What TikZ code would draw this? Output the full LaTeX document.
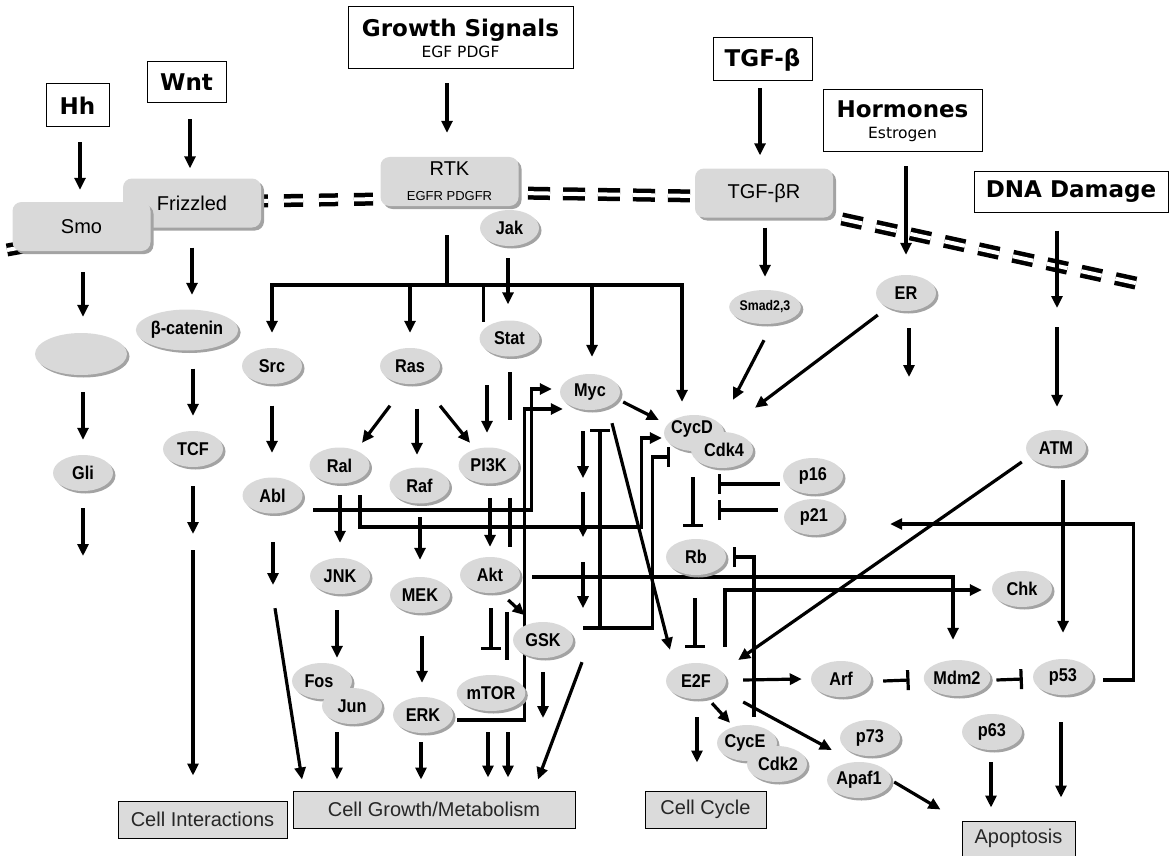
\documentclass[tikz,border=0pt]{standalone}
\usepackage{fontspec}
\setmainfont{Liberation Sans}
\newfontfamily\hdrfont{DejaVu Sans}
\newfontfamily\protfont{Liberation Sans}[FakeStretch=0.88]
\usetikzlibrary{arrows.meta,calc,shapes.geometric,shadows}
\definecolor{protgray}{HTML}{D9D9D9}
\definecolor{shadegray}{HTML}{A3A3A3}
\definecolor{outgray}{HTML}{DBDBDB}
\newcommand{\subtxt}{\hdrfont\mdseries\fontsize{15.5}{15.5}\selectfont}
\pgfdeclarelayer{membrane}
\pgfdeclarelayer{wires}
\pgfsetlayers{membrane,wires,main}
\tikzset{
  prot/.style={ellipse, fill=protgray, minimum width=60pt, minimum height=36pt,
    inner sep=0pt, font=\protfont\bfseries\fontsize{18.5}{18.5}\selectfont,
    drop shadow={shadow xshift=2.5pt, shadow yshift=-2.5pt, fill=shadegray, opacity=1}},
  plabel/.style={inner sep=0pt, font=\protfont\bfseries\fontsize{18.5}{18.5}\selectfont},
  rec/.style={rectangle, rounded corners=9pt, fill=protgray, minimum width=138pt,
    minimum height=49pt, inner sep=0pt, align=center, font=\fontsize{20}{22}\selectfont,
    drop shadow={shadow xshift=3pt, shadow yshift=-3pt, fill=shadegray, opacity=1}},
  hdr/.style={draw, line width=1pt, fill=white, inner sep=0pt, align=center,
    font=\hdrfont\bfseries\fontsize{23}{26}\selectfont},
  outc/.style={draw, line width=1pt, fill=outgray, inner sep=0pt, minimum height=37pt,
    text=black!85, font=\fontsize{20}{22}\selectfont},
  arr/.style={-{Triangle[length=12pt,width=11pt]}, line width=3.2pt},
  inh/.style={-{Bar[width=20pt]}, line width=3.2pt},
  wire/.style={line width=3.2pt},
  memb/.style={line width=4.5pt, double=white, double distance=4pt},
}

\begin{document}
\begin{tikzpicture}[x=1pt,y=-1pt]
  \useasboundingbox (0,0) rectangle (1170,856);

  % signals
  \node[hdr, minimum width=63pt, minimum height=43pt] (hh) at (77.5,105.5) {Hh};
  \node[hdr, minimum width=79pt, minimum height=41pt] (wnt) at (186.5,82.5) {Wnt};
  \node[hdr, minimum width=225pt, minimum height=62pt] (growth) at (460.5,38)
    {Growth Signals\\[-5pt]{\subtxt EGF PDGF}};
  \node[hdr, minimum width=99pt, minimum height=43pt] (tgfb) at (762.5,59.5) {TGF-β};
  \node[hdr, minimum width=159pt, minimum height=62pt] (horm) at (902.5,121)
    {Hormones\\[-5pt]{\subtxt Estrogen}};
  \node[hdr, minimum width=194pt, minimum height=41pt] (dna) at (1071,191.5) {DNA Damage};

  % receptors
  \node[rec] (friz) at (192,203) {Frizzled};
  \node[rec] (smo) at (81.5,226.5) {Smo};
  \node[rec] (rtk) at (449.5,181.5) {RTK\\[3pt]{\fontsize{13}{13}\selectfont EGFR PDGFR}};
  \node[rec] (tgfr) at (764,193) {TGF-βR};
  \node[prot, minimum width=59pt] (jak) at (509.5,228) {Jak};

  % Hh / Wnt branches
  \node[prot, minimum width=92pt, minimum height=42pt] (hhx) at (81,354) {};
  \node[prot] (gli) at (83,473) {Gli};
  \node[prot, minimum width=88pt, minimum height=41pt] (bcat) at (187,330) {β-catenin};
  \node[prot] (tcf) at (193,449) {TCF};

  % growth signalling
  \node[prot] (src) at (272,366) {Src};
  \node[prot] (ras) at (410,366) {Ras};
  \node[prot] (stat) at (509.5,338.5) {Stat};
  \node[prot] (ral) at (339.5,465.5) {Ral};
  \node[prot] (raf) at (419.5,485.5) {Raf};
  \node[prot] (pik) at (488.5,465.5) {PI3K};
  \node[prot] (abl) at (272.5,495.5) {Abl};
  \node[prot] (jnk) at (340,576) {JNK};
  \node[prot] (mek) at (420,595) {MEK};
  \node[prot] (akt) at (490,575) {Akt};
  \node[prot] (gsk) at (543,640) {GSK};
  \node[prot] (fos) at (322,681) {\hspace*{-6pt}Fos};
  \node[prot] (jun) at (352,706) {Jun};
  \node[prot] (erk) at (423,715) {ERK};
  \node[prot] (mtor) at (491,693) {mTOR};
  \node[prot] (myc) at (590,392) {Myc};

  % cell cycle / apoptosis
  \node[prot] (cycd) at (694,433) {};
  \node[prot] (cdk4) at (722,450) {\hspace*{4pt}Cdk4};
  \node[plabel] (cycdlbl) at (692,429) {CycD};
  \node[prot, minimum width=68pt, minimum height=34pt,
    font=\protfont\bfseries\fontsize{14}{14}\selectfont] (smad) at (765,307) {Smad2,3};
  \node[prot] (er) at (906,293) {ER};
  \node[prot] (atm) at (1056,448) {ATM};
  \node[prot] (p16) at (813,476) {p16};
  \node[prot] (p21) at (814,517) {p21};
  \node[prot] (rb) at (696,557) {Rb};
  \node[prot] (chk) at (1022,589) {Chk};
  \node[prot] (e2f) at (696,681) {E2F};
  \node[prot] (arf) at (841,679) {Arf};
  \node[prot] (mdm2) at (957,678) {Mdm2};
  \node[prot] (p53) at (1063,677) {p53};
  \node[prot] (p63) at (992,732) {p63};
  \node[prot] (cyce) at (747,743) {\hspace*{-4pt}CycE};
  \node[prot] (cdk2) at (777,764) {\hspace*{2pt}Cdk2};
  \node[prot] (p73) at (870,738) {p73};
  \node[prot] (apaf) at (859,780) {Apaf1};

  % outcomes
  \node[outc, minimum width=169pt] (cellint) at (202.5,819.5) {Cell Interactions};
  \node[outc, minimum width=282pt] (cellgrow) at (434,809.5) {Cell Growth/Metabolism};
  \node[outc, minimum width=121pt] (cellcyc) at (705.5,809.5) {Cell Cycle};
  \node[outc, minimum width=113pt, minimum height=35pt] (apop) at (1018.5,838.5) {Apoptosis};

  \coordinate (dmg) at (1057,317);
  \coordinate (gliout) at (83,556);
  \coordinate (tcfmid) at (193,542);
  \coordinate (ablout) at (273,585);
  \coordinate (gskout) at (543,718);
  \coordinate (erout) at (909,377);
  \coordinate (busL) at (272,285);
  \coordinate (busR) at (682,285);

  % membrane
  \begin{pgfonlayer}{membrane}
    \draw[memb] (7,250) -- (40,244);
    \draw[memb, dash pattern=on 19pt off 16pt, dash phase=12pt] (261,201) -- (380,199);
    \draw[memb, dash pattern=on 22pt off 13pt, dash phase=26pt] (519,193) -- (695,196);
    \draw[memb, dash pattern=on 21pt off 14pt, dash phase=26pt] (833,217) -- (1140,284);
  \end{pgfonlayer}

  \begin{pgfonlayer}{wires}
    % inputs
    \draw[arr] ($(hh.south)+(2.5,15)$) -- ($(smo.north)+(-1.5,-12)$);
    \draw[arr] ($(wnt.south)+(3.5,16)$) -- ($(friz.north)+(-2,-10)$);
    \draw[arr] ($(growth.south)+(-13.5,14)$) -- ($(rtk.north)+(-2.5,-24)$);
    \draw[arr] ($(tgfb.south)+(-2.5,7)$) -- ($(tgfr.north)+(-4,-13)$);
    \draw[arr] ($(horm.south)+(3.5,14)$) -- ($(er.north)+(0,-20)$);
    \draw[arr] ($(dna.south)+(-14,18)$) -- ($(dmg)+(0,-9)$);
    \draw[arr] ($(dmg)+(0,10)$) -- ($(atm.north)+(1,-23)$);
    \draw[arr] ($(tgfr.south)+(1,10)$) -- ($(smad.north)+(0,-13)$);

    % Hh and Wnt
    \draw[arr] ($(smo.south)+(1.5,21)$) -- ($(hhx.north)+(2,-16)$);
    \draw[arr] ($(hhx.south)+(2,17)$) -- ($(gli.north)+(0,-15)$);
    \draw[arr] ($(gli.south)+(0,17)$) -- (gliout);
    \draw[arr] ($(friz.south)+(0,20)$) -- ($(bcat.north)+(5,-14.5)$);
    \draw[arr] ($(bcat.south)+(6,18)$) -- ($(tcf.north)+(0,-15)$);
    \draw[arr] ($(tcf.south)+(0,19)$) -- ($(tcfmid)+(0,-8)$);
    \draw[arr] ($(tcfmid)+(0,8)$) -- ($(cellint.north)+(-9.5,-25)$);

    % RTK bus
    \draw[wire] ($(rtk.south)+(-2.5,29)$) -- ($(rtk.south)+(-2.5,79)$);
    \draw[arr] (busR) -- (busL) -- ($(src.north)+(0,-15)$);
    \draw[arr] (busL) -- (busR) -- ($(cycd.north)+(-12,-13)$);
    \draw[arr] (ras.north |- busL) -- ($(ras.north)+(0,-15)$);
    \draw[wire] ($(stat.north |- busL)+(-26,0)$) -- ($(stat.north)+(-26,2)$);
    \draw[arr] ($(myc.north |- busL)+(2,0)$) -- ($(myc.north)+(2,-17)$);
    \draw[arr] ($(jak.south)+(-1.5,12)$) -- ($(stat.north)+(-1.5,-16)$);
    \draw[arr] ($(stat.south)+(-22.5,28.5)$) -- ($(pik.north)+(-1.5,-14.5)$);

    % Stat column
    \draw[wire] ($(stat.south)+(0.5,15.5)$) -- ($(stat.south)+(0.5,63.5)$);
    \draw[wire] ($(pik.south)+(21.5,14.5)$) -- ($(akt.north)+(20,-10)$);
    \draw[wire] ($(akt.south)+(17,19)$) -- ($(mtor.north)+(16,-15)$);
    \draw[arr] ($(mtor.south)+(17,21)$) -- ($(cellgrow.north)+(74,-13)$);

    % Ras branches
    \draw[arr] ($(pik.south)+(1.5,14.5)$) -- ($(akt.north)+(0,-10)$);
    \draw[inh] ($(akt.south)+(1,15)$) -- ($(mtor.north)+(0,-25)$);
    \draw[arr] ($(mtor.south)+(-3,21)$) -- ($(cellgrow.north)+(54,-13)$);
    \draw[arr] ($(src.south)+(0,21.5)$) -- ($(abl.north)+(-0.5,-24.5)$);
    \draw[arr] ($(ras.south)+(-20,21.5)$) -- ($(ral.north)+(22.5,-4.5)$);
    \draw[arr] ($(ras.south)+(7,24.5)$) -- ($(raf.north)+(-2.5,-12.5)$);
    \draw[arr] ($(ras.south)+(30,21.5)$) -- ($(pik.north)+(-18.5,-4.5)$);
    \draw[arr] ($(ral.south)+(0.5,11.5)$) -- ($(jnk.north)+(0,-15)$);
    \draw[arr] ($(raf.south)+(0.5,13.5)$) -- ($(mek.north)+(0,-17)$);
    \draw[arr] ($(jnk.south)+(-3,16)$) -- ($(fos.north)+(15,-5)$);
    \draw[arr] ($(mek.south)+(2,23)$) -- ($(erk.north)+(-1,-14)$);
    \draw[arr] ($(jun.south)+(-15,8)$) -- ($(cellgrow.north)+(-97,-11)$);
    \draw[arr] ($(erk.south)+(-2,9)$) -- ($(cellgrow.north)+(-13,-11)$);
    \draw[arr] ($(abl.south)+(0.5,28.5)$) -- (ablout);
    \draw[arr] ($(abl.south)+(2.5,94.5)$) -- ($(cellgrow.north)+(-132,-11)$);
    \draw[arr] ($(gsk.south)+(0,14)$) -- (gskout);
    \draw[arr] ($(gsk.south)+(39,4)$) -- ($(cellgrow.north)+(104,-11)$);

    % Myc
    \draw[arr] ($(myc.south)+(-7,21)$) -- ($(myc.south)+(-7,68)$);
    \draw[arr] ($(myc.south)+(-7,82)$) -- ($(myc.south)+(-7,127)$);
    \draw[arr] ($(myc.south)+(-7,152)$) -- ($(myc.south)+(-7,198)$);
    \draw[arr] ($(myc.south)+(22,13)$) -- ($(e2f.north)+(-26,-13)$);
    \draw[arr] ($(myc.east)+(3,10)$) -- ($(cycd.west)+(-5,-13)$);
    \draw[arr] ($(abl.east)+(10.5,14.5)$) -| ($(myc.west)+(-28,-3)$) -- ($(myc.west)+(-8,-3)$);
    \draw[arr] ($(erk.east)+(4,5)$) -| ($(myc.west)+(-35,17)$) -- ($(myc.west)+(3,17)$);
    \draw[arr] ($(ral.south)+(20.5,11.5)$) |- ($(cycd.west)+(-22,94)$) |- ($(cycd.west)+(-2,5)$);
    \draw[arr] ($(akt.east)+(-12,25)$) -- ($(gsk.north west)+(3,-12)$);
    \draw[arr] ($(akt.east)+(12,2)$) -| ($(mdm2.north)+(-4,-20)$);
    \draw[inh] ($(gsk.east)+(10,-12)$) -| ($(myc.south)+(10,19)$);
    \draw[inh] ($(gsk.east)+(10,-12)$) -| ($(cycd.west)+(-11,24)$) -- ($(cycd.west)+(6,24)$);

    % CycD / Rb / E2F
    \draw[arr] ($(smad.south)+(-1,16)$) -- ($(cdk4.north)+(11,-32)$);
    \draw[arr] ($(er.west)+(2,22)$) -- ($(cdk4.north)+(33,-24)$);
    \draw[arr] ($(er.south)+(3,17)$) -- (erout);
    \draw[inh] ($(cycd.south)+(-1,26)$) -- ($(rb.north)+(-3,-12)$);
    \draw[inh] ($(p16.west)+(-3,8)$) -- ($(p16.west)+(-65,8)$);
    \draw[inh] ($(p21.west)+(-6,-7)$) -- ($(p21.west)+(-66,-7)$);
    \draw[inh] ($(rb.south)+(-1,23)$) -- ($(e2f.north)+(-1,-15)$);
    \draw[arr] ($(e2f.north)+(29,-16)$) |- ($(chk.west)+(-10,1)$);
    \draw[inh] ($(cdk2.north)+(-23,-29)$) |- ($(rb.east)+(7,0)$);
    \draw[arr] ($(atm.west)+(-4,14)$) -- ($(e2f.east)+(12,-21)$);
    \draw[arr] ($(atm.south)+(7,14)$) -- ($(p53.north)+(0,-26)$);
    \draw[arr] ($(e2f.east)+(17,-1)$) -- ($(arf.west)+(-9,0)$);
    \draw[inh] ($(arf.east)+(12,2)$) -- ($(mdm2.west)+(-14,2)$);
    \draw[inh] ($(mdm2.east)+(6,2)$) -- ($(p53.west)+(-10,2)$);
    \draw[arr] ($(p53.east)+(10,3)$) -| ($(p21.east)+(289,7)$) -- ($(p21.east)+(46,7)$);
    \draw[arr] ($(e2f.south)+(16,4)$) -- ($(cyce.north)+(-17,-2)$);
    \draw[arr] ($(e2f.south)+(1,18)$) -- ($(cellcyc.north)+(-8.5,-28)$);
    \draw[arr] ($(e2f.east)+(17,21)$) -- ($(p73.west)+(-8,12)$);
    \draw[arr] ($(apaf.east)+(3,2)$) -- ($(apop.north west)+(-21,-11)$);
    \draw[arr] ($(p63.south)+(-1,12)$) -- ($(apop.north)+(-27.5,-13)$);
    \draw[arr] ($(p53.south)+(-2,27)$) -- ($(apop.north)+(42.5,-23)$);
  \end{pgfonlayer}
\end{tikzpicture}
\end{document}
